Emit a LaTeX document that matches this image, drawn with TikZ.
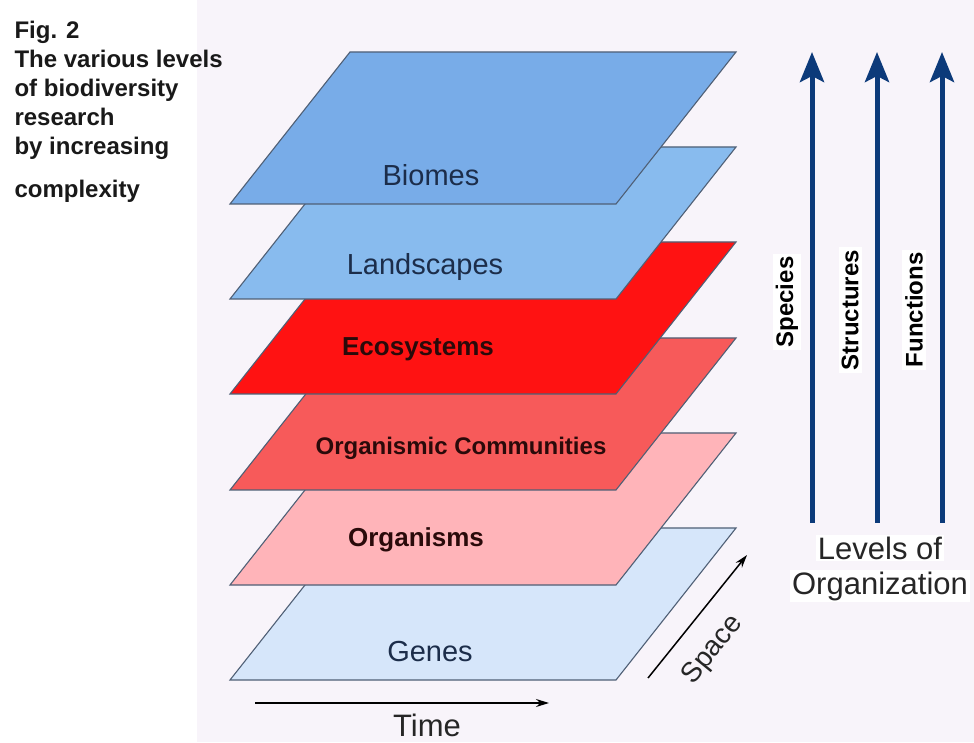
\documentclass[tikz,border=0pt]{standalone}
\usepackage{fontspec}
\setmainfont{Liberation Sans}
\usepackage{tikz}
\usetikzlibrary{arrows.meta}

\definecolor{bgright}{HTML}{F8F4FA}
\definecolor{planeline}{HTML}{4F5F75}
\definecolor{biomeblue}{HTML}{78ACE8}
\definecolor{landblue}{HTML}{88BBEE}
\definecolor{ecored}{HTML}{FF1212}
\definecolor{commred}{HTML}{F75A5A}
\definecolor{orgpink}{HTML}{FFB4B9}
\definecolor{geneblue}{HTML}{D6E6FA}
\definecolor{navytext}{HTML}{1C2D4A}
\definecolor{darktext}{HTML}{2A0A0A}
\definecolor{levelarrow}{HTML}{0C3A7A}

\begin{document}
\begin{tikzpicture}[x=1pt,y=1pt,
  plane/.style={draw=planeline, line width=1.1pt},
  lighttext/.style={text=navytext, font=\fontsize{29}{34}\selectfont},
  boldtext/.style={text=darktext, font=\bfseries\fontsize{26}{30}\selectfont},
  axistext/.style={text=black!85, font=\fontsize{31}{36}\selectfont},
  levelbar/.style={levelarrow, line width=5pt, -{Stealth[length=30pt,width=24pt,inset=6pt]}},
  leveltext/.style={text=black, font=\bfseries\fontsize{24}{28}\selectfont, fill=white, inner sep=3pt}]

% frame and backdrop
\useasboundingbox (0,0) rectangle (974,742);
\fill[white] (0,0) rectangle (974,742);
\fill[bgright] (197,0) rectangle (974,742);

% caption
\node[anchor=north west, align=left, text=black!90,
  font=\bfseries\fontsize{24}{29}\selectfont] (caption) at (11,724)
  {Fig. 2\\The various levels\\of biodiversity\\research\\by increasing\\[14pt]complexity};

% the six planes, bottom first
\draw[plane, fill=geneblue] (230,62) -- ++(386,0) -- ++(120,152) -- ++(-386,0) -- cycle;
\draw[plane, fill=orgpink] (230,157) -- ++(386,0) -- ++(120,152) -- ++(-386,0) -- cycle;
\draw[plane, fill=commred] (230,252) -- ++(386,0) -- ++(120,152) -- ++(-386,0) -- cycle;
\draw[plane, fill=ecored] (230,348) -- ++(386,0) -- ++(120,152) -- ++(-386,0) -- cycle;
\draw[plane, fill=landblue] (230,443) -- ++(386,0) -- ++(120,152) -- ++(-386,0) -- cycle;
\draw[plane, fill=biomeblue] (230,538) -- ++(386,0) -- ++(120,152) -- ++(-386,0) -- cycle;

\node[lighttext] (biomes) at (431,567) {Biomes};
\node[lighttext] (landscapes) at (425,475) {Landscapes};
\node[boldtext] (ecosystems) at (418,393) {Ecosystems};
\node[boldtext, font=\bfseries\fontsize{24}{28}\selectfont] (communities) at (461,294) {Organismic Communities};
\node[boldtext] (organisms) at (416,202) {Organisms};
\node[lighttext] (genes) at (430,90) {Genes};

% time and space
\coordinate (timestart) at (255,39);
\coordinate (timeend) at (549,39);
\draw[line width=1.5pt, -{Stealth[length=13pt,width=8pt]}] (timestart) -- (timeend);
\node[axistext, anchor=base] (time) at (427,6) {Time};

\coordinate (spacestart) at (648,64);
\coordinate (spaceend) at (747,187);
\draw[line width=1.5pt, -{Stealth[length=13pt,width=8pt]}] (spacestart) -- (spaceend);
\node[axistext, font=\fontsize{28}{32}\selectfont, rotate=51] (space) at (713,92) {Space};

% levels of organization
\coordinate (speciesbot) at (812,219);
\coordinate (speciestop) at (812,690);
\coordinate (structbot) at (877,219);
\coordinate (structtop) at (877,690);
\coordinate (functbot) at (942,219);
\coordinate (functtop) at (942,690);
\draw[levelbar] (speciesbot) -- (speciestop);
\draw[levelbar] (structbot) -- (structtop);
\draw[levelbar] (functbot) -- (functtop);

\node[leveltext, rotate=90] (species) at (787,440) {Species};
\node[leveltext, rotate=90] (structures) at (850,432) {Structures};
\node[leveltext, rotate=90] (functions) at (914,432) {Functions};

\node[axistext, fill=white, inner sep=2pt] (levels) at (880,194) {Levels of};
\node[axistext, fill=white, inner sep=2pt] (organization) at (880,156) {Organization};

\end{tikzpicture}
\end{document}
